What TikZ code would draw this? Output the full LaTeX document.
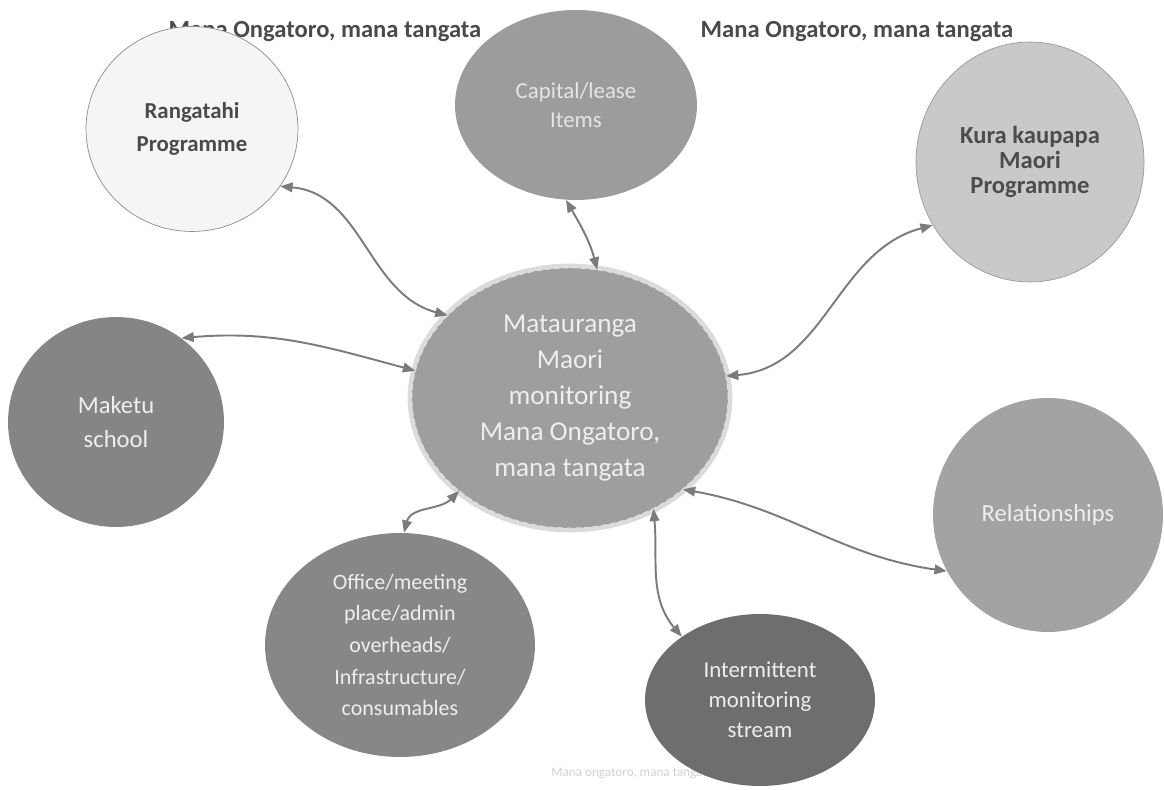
\documentclass[tikz,border=0pt]{standalone}
\usepackage{fontspec}
\setmainfont{Carlito}
\usetikzlibrary{shapes.geometric,arrows.meta}
\definecolor{linkgray}{HTML}{7B7B7B}
\definecolor{titlegray}{HTML}{4A4A4A}
\definecolor{textlight}{HTML}{EEEEEE}
\begin{document}
\begin{tikzpicture}[x=0.02cm, y=-0.02cm,
    bubble/.style={ellipse, inner sep=0pt, align=center, text=textlight},
    link/.style={{Triangle[length=7pt,width=5.5pt]}-{Triangle[length=7pt,width=5.5pt]}, draw=linkgray, line width=1.1pt},
    banner/.style={font=\bfseries\fontsize{14}{16}\selectfont, text=titlegray}]
	\useasboundingbox (0,0) rectangle (1164,790);
	% headings, partly hidden by the bubbles
	\node[banner] (headleft) at (325,32) {Mana Ongatoro, mana tangata};
	\node[banner] (headright) at (857,32) {Mana Ongatoro, mana tangata};
	\node[font=\fontsize{7.5}{9}\selectfont, text=black!18] (caption) at (665,773) {Mana ongatoro, mana tangata programme};
	% outer bubbles
	\node[bubble, minimum width=4.24cm, minimum height=4.1cm, fill=black!4, draw=black!45, text=titlegray, font=\bfseries\fontsize{13}{19}\selectfont] (rang) at (192,129) {Rangatahi\\Programme};
	\node[bubble, minimum width=4.84cm, minimum height=3.8cm, fill=black!39, font=\fontsize{13}{16.5}\selectfont, text=black!10] (capital) at (576,105) {Capital/lease\\Items};
	\node[bubble, minimum width=4.56cm, minimum height=4.8cm, fill=black!21, draw=black!40, text=black!70, font=\bfseries\fontsize{14}{14}\selectfont] (kura) at (1030,162) {Kura kaupapa\\Maori\\Programme};
	\node[bubble, minimum width=4.32cm, minimum height=4.2cm, fill=black!48, font=\fontsize{14}{19.5}\selectfont] (maketu) at (116,422) {Maketu\\school};
	\node[bubble, minimum width=5.4cm, minimum height=4.48cm, fill=black!47, font=\fontsize{12.5}{18}\selectfont] (office) at (400,645) {Office/meeting\\place/admin\\overheads/\\Infrastructure/\\consumables};
	\node[bubble, minimum width=4.6cm, minimum height=3.44cm, fill=black!57, font=\fontsize{13}{17}\selectfont] (stream) at (760,700) {Intermittent\\monitoring\\stream};
	\node[bubble, minimum width=4.6cm, minimum height=4.68cm, fill=black!36, font=\fontsize{14}{17}\selectfont] (relation) at (1048,515) {Relationships};
	% centre bubble
	\node[bubble, minimum width=6.32cm, minimum height=5.2cm, fill=black!38, draw=black!10, densely dashed,
	      preaction={draw=black!14, line width=5pt, solid}, font=\fontsize{15.5}{20.5}\selectfont] (centre) at (570,398)
	      {Matauranga\\Maori\\monitoring\\Mana Ongatoro,\\mana tangata};
	% links
	\draw[link] (rang.-33) to[out=-5,in=165] (centre.146);
	\draw[link] (capital.-96) to[out=-60,in=105] (centre.78);
	\draw[link] (kura.213) to[out=195,in=5] (centre.8);
	\draw[link] (maketu.52) to[out=5,in=165] (centre.170);
	\draw[link] (office.88) to[out=75,in=-135] (centre.-140);
	\draw[link] (centre.-53) to[out=-85,in=130] (stream.141);
	\draw[link] (centre.-39) to[out=-10,in=172] (relation.209);
\end{tikzpicture}
\end{document}
